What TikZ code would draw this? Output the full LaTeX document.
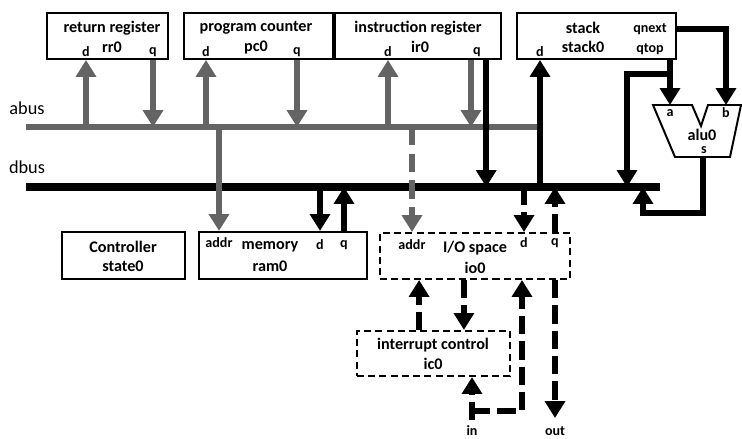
\documentclass[tikz,border=0pt]{standalone}
\usepackage{fontspec}
\setmainfont{Carlito}
\usetikzlibrary{arrows.meta}
\definecolor{busgrey}{RGB}{100,100,100}

\begin{document}
\begin{tikzpicture}[x=0.025cm,y=-0.025cm,
	box/.style={draw,line width=1.4pt,minimum height=1.15cm,inner sep=0pt},
	dbox/.style={box,dash pattern=on 5pt off 3pt},
	ttl/.style={inner sep=0pt,font=\fontsize{11.5}{13}\selectfont\bfseries},
	prt/.style={inner sep=0pt,font=\fontsize{10}{12}\selectfont\bfseries},
	buslbl/.style={inner sep=0pt,font=\fontsize{13}{15}\selectfont},
	tip/.style={-{Triangle[width=14pt,length=12pt]}},
	garr/.style={tip,busgrey,line width=4.2pt},
	barr/.style={tip,black,line width=4.2pt},
	gdash/.style={garr,dash pattern=on 13pt off 6pt},
	bdash/.style={barr,dash pattern=on 13pt off 5pt}]
	\useasboundingbox (0,0) rectangle (742,439);

	% blocks
	\node[box,minimum width=3.03cm] (rr) at (107.5,36) {};
	\node[box,minimum width=3.73cm] (pc) at (258.5,36) {};
	\node[box,minimum width=4.15cm] (ir) at (418,36) {};
	\node[box,minimum width=3.98cm] (stack) at (596.5,36) {};
	\node[box,minimum width=3.08cm,minimum height=1.18cm] (ctrl) at (123.5,255.5) {};
	\node[box,minimum width=4.2cm,minimum height=1.18cm] (ram) at (283,255.5) {};
	\node[dbox,minimum width=4.75cm] (io) at (475,256) {};
	\node[dbox,minimum width=3.83cm,minimum height=1.13cm] (ic) at (433.5,353.5) {};

	% texts
	\node[ttl] (rrT) at (112,28) {return register};
	\node[ttl] (rrN) at (112,47) {rr0};
	\node[prt] (rrd) at (86,52) {d};
	\node[prt] (rrq) at (153,52) {q};
	\node[ttl] (pcT) at (256,28) {program counter};
	\node[ttl] (pcN) at (256,47) {pc0};
	\node[prt] (pcd) at (206,52) {d};
	\node[prt] (pcq) at (297,52) {q};
	\node[ttl] (irT) at (418,28) {instruction register};
	\node[ttl] (irN) at (420,47) {ir0};
	\node[prt] (ird) at (388,52) {d};
	\node[prt] (irq) at (477,52) {q};
	\node[ttl] (stackT) at (583,28) {stack};
	\node[ttl] (stackN) at (583,47) {stack0};
	\node[prt] (stackd) at (540,52) {d};
	\node[prt] (qnext) at (650,29) {qnext};
	\node[prt] (qtop) at (650,49) {qtop};
	\node[ttl] (ctrlT) at (123,247) {Controller};
	\node[ttl] (ctrlN) at (123,266) {state0};
	\node[prt] (ramaddr) at (219,243) {addr};
	\node[ttl] (ramT) at (270,247) {memory};
	\node[ttl] (ramN) at (270,266) {ram0};
	\node[prt] (ramd) at (320,245) {d};
	\node[prt] (ramq) at (344,245) {q};
	\node[prt] (ioaddr) at (412,245) {addr};
	\node[ttl] (ioT) at (475,248) {I/O space};
	\node[ttl] (ioN) at (475,268) {io0};
	\node[prt] (iod) at (524,243) {d};
	\node[prt] (ioq) at (555,243) {q};
	\node[ttl] (icT) at (433,345) {interrupt control};
	\node[ttl] (icN) at (433,364) {ic0};
	\node[buslbl] (abuslbl) at (27,108) {abus};
	\node[buslbl] (dbuslbl) at (27,167) {dbus};
	\node[prt] (in) at (472,431) {in};
	\node[prt] (out) at (555,431) {out};

	% alu
	\draw[line width=1.4pt] (653,105) -- (692,105) -- (701,126) -- (708,105) -- (741,105) -- (730,157) -- (675,157) -- cycle;
	\coordinate (alutop) at (653,105);
	\coordinate (alubot) at (675,157);
	\node[prt] (alua) at (670,113) {a};
	\node[prt] (alub) at (726,113) {b};
	\node[ttl] (alu) at (702,135) {alu0};
	\node[prt] (alus) at (704,150) {s};

	% buses
	\coordinate (abus) at (26,127);
	\coordinate (abusend) at (537,127);
	\coordinate (dbus) at (26,187);
	\coordinate (dbusend) at (660,187);
	\draw[busgrey,line width=4.5pt] (abus) -- (abusend);
	\draw[black,line width=5pt] (dbus) -- (dbusend);

	% abus connections
	\draw[garr] (rrd |- abus) -- (rrd |- rr.south);
	\draw[garr] (rrq |- rr.south) -- (rrq |- abus);
	\draw[garr] (pcd |- abus) -- (pcd |- pc.south);
	\draw[garr] (pcq |- pc.south) -- (pcq |- abus);
	\draw[garr] (ird |- abus) -- (ird |- ir.south);
	\draw[garr] ([xshift=-0.15cm]irq |- ir.south) -- ([xshift=-0.15cm]irq |- abus);
	\draw[garr] (ramaddr |- abus) -- (ramaddr |- ram.north);
	\draw[gdash] (ioaddr |- abus) -- (ioaddr |- io.north);

	% dbus connections
	\draw[barr] ([xshift=0.23cm]irq |- ir.south) -- ([xshift=0.23cm]irq |- dbus);
	\draw[barr] (stackd |- dbus) -- (stackd |- stack.south);
	\draw[barr] (ramd |- dbus) -- (ramd |- ram.north);
	\draw[barr] (ramq |- ram.north) -- (ramq |- dbus);
	\draw[bdash] (iod |- dbus) -- (iod |- io.north);
	\draw[bdash] (ioq |- io.north) -- (ioq |- dbus);

	% stack and alu
	\coordinate (qtopj) at (627,74);
	\coordinate (sbend) at (643,213);
	\draw[barr] (alua |- stack.south) -- (alua |- alutop);
	\draw[barr] (alua |- qtopj) -- (qtopj) -- (qtopj |- dbus);
	\draw[barr] (stack.east |- qnext) -| (alub |- alutop);
	\draw[barr] ([xshift=-0.025cm]alus |- alubot) |- (sbend) -- (sbend |- dbus);

	% io and interrupt control
	\coordinate (inpt) at (472,420);
	\coordinate (injn) at (472,411);
	\coordinate (outpt) at (555,418);
	\draw[bdash] ([xshift=-0.36cm]ic.north) -- ([xshift=-0.36cm]ic.north |- io.south);
	\draw[bdash] ([xshift=0.76cm]ic.north |- io.south) -- ([xshift=0.76cm]ic.north);
	\draw[bdash] (inpt) -- (inpt |- ic.south);
	\draw[bdash] (injn) -| ([xshift=-0.05cm]iod |- io.south);
	\draw[bdash] (ioq |- io.south) -- (outpt);
\end{tikzpicture}
\end{document}
